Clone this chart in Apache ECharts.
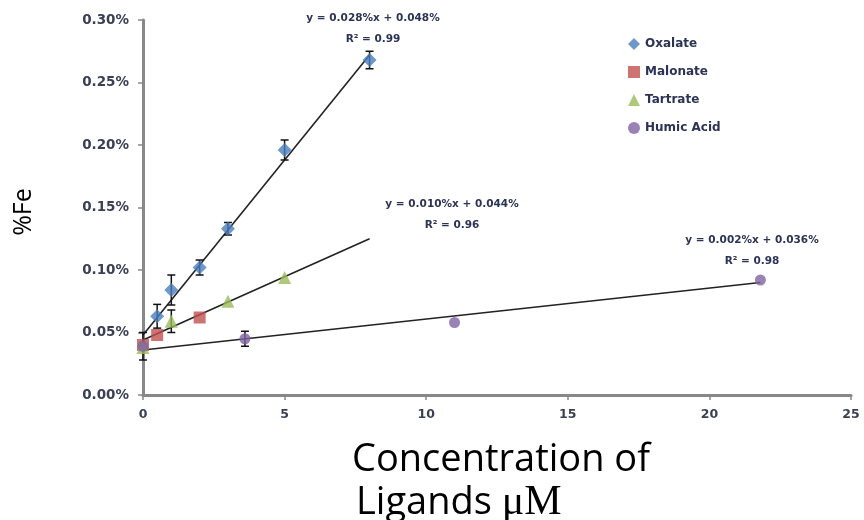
<!DOCTYPE html>
<html><head><meta charset="utf-8">
<script src="https://cdn.jsdelivr.net/npm/echarts@6/dist/echarts.min.js"></script>
<style>html,body{margin:0;padding:0;background:#fff}#c{width:864px;height:520px}</style>
</head><body><div id="c"></div>
<script>
const xTicks = [0, 5, 10, 15, 20, 25];
const yTicks = [0, 0.05, 0.10, 0.15, 0.20, 0.25, 0.30];
const seriesNames = ['Oxalate', 'Malonate', 'Tartrate', 'Humic Acid'];
const oxalateX = [0.5, 1, 2, 3, 5, 8];
const oxalateY = [0.063, 0.084, 0.102, 0.133, 0.196, 0.268];
const oxalateErr = [0.0095, 0.012, 0.006, 0.005, 0.008, 0.007];
const malonateX = [0, 0.5, 2];
const malonateY = [0.040, 0.048, 0.062];
const tartrateX = [0, 1, 3, 5];
const tartrateY = [0.038, 0.059, 0.075, 0.094];
const tartrateErr = [0, 0.009, 0, 0];
const humicX = [0, 3.6, 11, 21.8];
const humicY = [0.039, 0.045, 0.058, 0.092];
const humicErr = [0.011, 0.006, 0, 0];
const trendOxX = [0, 8], trendOxY = [0.048, 0.272];
const trendTaX = [0, 8], trendTaY = [0.044, 0.125];
const trendHuX = [0, 21.8], trendHuY = [0.036, 0.090];
const eqTexts = [['y = 0.028%x + 0.048%', 'R² = 0.99'], ['y = 0.010%x + 0.044%', 'R² = 0.96'], ['y = 0.002%x + 0.036%', 'R² = 0.98']];

const colors = ['#4a7ebb', '#c0504d', '#9bbb59', '#8064a2'];
const zip = (a, b) => a.map((v, i) => [v, b[i]]);
const errData = (xs, ys, es) => xs.map((x, i) => [x, ys[i] - es[i], ys[i] + es[i]]).filter((d, i) => es[i] > 0);

function errSeries(data) {
  return {
    type: 'custom', silent: true, z: 5,
    renderItem: function (params, api) {
      const lo = api.coord([api.value(0), api.value(1)]);
      const hi = api.coord([api.value(0), api.value(2)]);
      const w = 4;
      const st = { stroke: '#111', lineWidth: 1.5 };
      return { type: 'group', children: [
        { type: 'line', shape: { x1: lo[0], y1: lo[1], x2: hi[0], y2: hi[1] }, style: st },
        { type: 'line', shape: { x1: lo[0] - w, y1: lo[1], x2: lo[0] + w, y2: lo[1] }, style: st },
        { type: 'line', shape: { x1: hi[0] - w, y1: hi[1], x2: hi[0] + w, y2: hi[1] }, style: st }
      ] };
    },
    data: data
  };
}
function trend(xs, ys) {
  return { type: 'line', data: zip(xs, ys), symbol: 'none', silent: true, z: 3,
    lineStyle: { color: '#222', width: 1.6 } };
}
function scatter(name, xs, ys, sym, size, col) {
  return { name: name, type: 'scatter', data: zip(xs, ys), symbol: sym, symbolSize: size,
    itemStyle: { color: col }, z: 6 };
}
const txtStyle = { fontFamily: 'DejaVu Sans', fontSize: 10.5, fontWeight: 'bold', fill: '#2b3356', textAlign: 'center' };
const eqPos = [[373, 13], [452, 199], [752, 235]];
const graphics = [];
eqTexts.forEach((t, i) => {
  graphics.push({ type: 'text', x: eqPos[i][0], y: eqPos[i][1], style: Object.assign({ text: t[0] }, txtStyle) });
  graphics.push({ type: 'text', x: eqPos[i][0], y: eqPos[i][1] + 21, style: Object.assign({ text: t[1] }, txtStyle) });
});
graphics.push({ type: 'text', x: 352, y: 460, style: { text: 'Concentration of', fontFamily: 'Open Sans', fontSize: 38, fill: '#000', textAlign: 'left', textVerticalAlign: 'middle' } });
graphics.push({ type: 'text', x: 356, y: 503, style: {
  text: '{a|Ligands }{b|μM}', textAlign: 'left', textVerticalAlign: 'middle',
  rich: { a: { fontFamily: 'Open Sans', fontSize: 38, color: '#000' }, b: { fontFamily: 'Liberation Serif', fontSize: 42, color: '#000' } } } });
graphics.push({ type: 'text', x: 24, y: 212, rotation: Math.PI / 2, style: { text: '%Fe', fontFamily: 'Open Sans', fontSize: 25, fill: '#000', textAlign: 'center', textVerticalAlign: 'middle' } });

const chart = echarts.init(document.getElementById('c'));
chart.setOption({
  animation: false,
  grid: { left: 143, right: 13, top: 20, bottom: 125 },
  xAxis: { type: 'value', min: xTicks[0], max: xTicks[xTicks.length - 1], interval: 5,
    splitLine: { show: false },
    axisLine: { lineStyle: { color: '#888', width: 3 } },
    axisTick: { show: true, length: 5, lineStyle: { color: '#888', width: 1.5 } },
    axisLabel: { color: '#3a3f55', fontFamily: 'DejaVu Sans', fontSize: 12.5, fontWeight: 'bold', margin: 13 } },
  yAxis: { type: 'value', min: yTicks[0], max: yTicks[yTicks.length - 1], interval: 0.05,
    splitLine: { show: false },
    axisLine: { show: true, lineStyle: { color: '#888', width: 3 } },
    axisTick: { show: true, length: 5, lineStyle: { color: '#888', width: 1.5 } },
    axisLabel: { color: '#3a3f55', fontFamily: 'DejaVu Sans', fontSize: 13.5, fontWeight: 'bold', margin: 14,
      formatter: v => v.toFixed(2) + '%' } },
  legend: { orient: 'vertical', left: 623, top: 33, itemGap: 16, itemWidth: 12, itemHeight: 12,
    textStyle: { fontFamily: 'DejaVu Sans', fontSize: 12, fontWeight: 'bold', color: '#2b3356' },
    data: [
      { name: seriesNames[0], icon: 'diamond' },
      { name: seriesNames[1], icon: 'rect' },
      { name: seriesNames[2], icon: 'triangle' },
      { name: seriesNames[3], icon: 'circle' }
    ] },
  graphic: graphics,
  series: [
    trend(trendOxX, trendOxY), trend(trendTaX, trendTaY), trend(trendHuX, trendHuY),
    errSeries(errData(oxalateX, oxalateY, oxalateErr)),
    errSeries(errData(tartrateX, tartrateY, tartrateErr)),
    errSeries(errData(humicX, humicY, humicErr)),
    scatter(seriesNames[0], oxalateX, oxalateY, 'diamond', 14, colors[0]),
    scatter(seriesNames[1], malonateX, malonateY, 'rect', 12, colors[1]),
    scatter(seriesNames[2], tartrateX, tartrateY, 'triangle', 13, colors[2]),
    scatter(seriesNames[3], humicX, humicY, 'circle', 11, colors[3])
  ]
});
</script></body></html>
